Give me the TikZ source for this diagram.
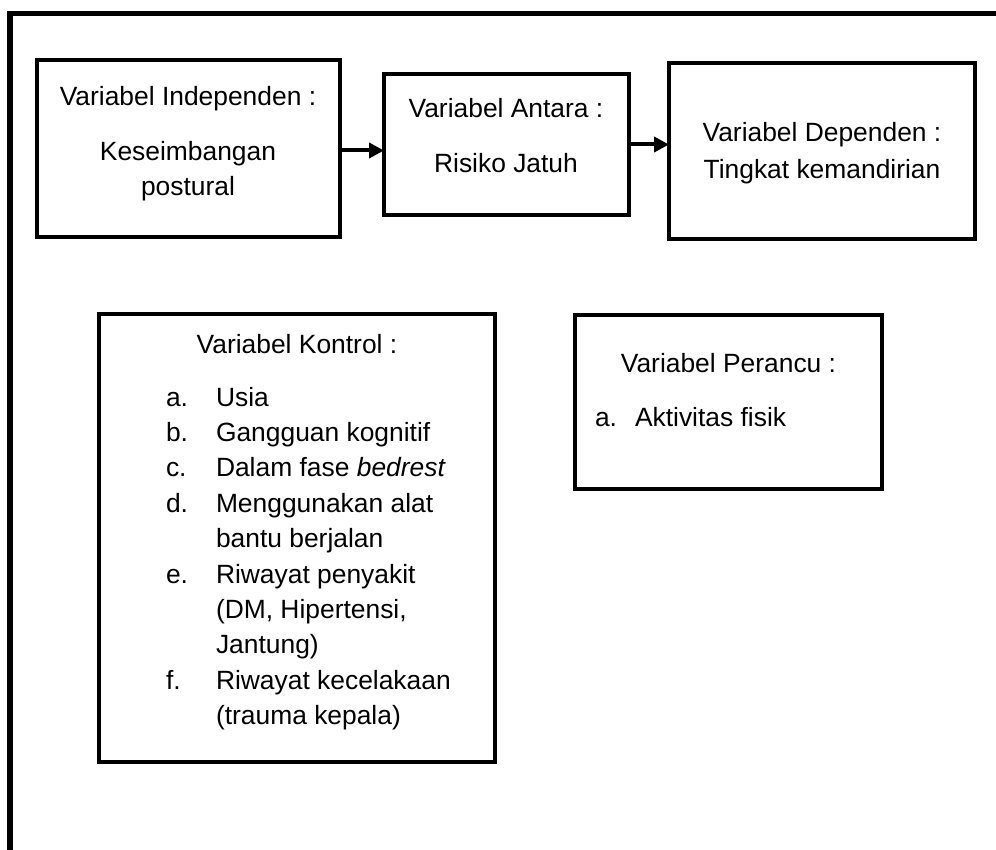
\documentclass[tikz,border=0pt]{standalone}
\usepackage{fontspec}
\setmainfont{Liberation Sans}
\usetikzlibrary{arrows.meta}
\begin{document}
\begin{tikzpicture}[x=1pt,y=-1pt,
  box/.style={draw=black, line width=4pt, rectangle, inner sep=0pt, outer sep=0pt, anchor=north west},
  txt/.style={inner sep=0pt, outer sep=0pt, anchor=base, font=\fontsize{26.4pt}{35pt}\selectfont},
  lft/.style={txt, anchor=base west},
  arr/.style={line width=4pt, -{Triangle[length=15pt,width=15pt]}},
  frame/.style={line width=5.3pt, line join=miter}]
\useasboundingbox (0,0) rectangle (996,850);
% outer frame (only left and top edges visible)
\coordinate (fa) at (10,870);
\coordinate (fb) at (10,13.5);
\coordinate (fc) at (1020,13.5);
\draw[frame] (fa) -- (fb) -- (fc);

% top boxes
\node[box, minimum width=303.5pt, minimum height=177pt] (b1) at (36.5,60) {};
\node[box, minimum width=244.5pt, minimum height=141pt] (b2) at (384,74) {};
\node[box, minimum width=306pt, minimum height=176pt] (b3) at (669,63.5) {};

\node[txt] (t1a) at (188,105.5) {Variabel Independen :};
\node[txt] (t1b) at (188,160.5) {Keseimbangan};
\node[txt] (t1c) at (188,195.5) {postural};

\node[txt] (t2a) at (506,118) {Variabel Antara :};
\node[txt] (t2b) at (506,173) {Risiko Jatuh};

\node[txt] (t3a) at (822,142) {Variabel Dependen :};
\node[txt] (t3b) at (822,179) {Tingkat kemandirian};

% arrows
\draw[arr] ([yshift=-2pt]b1.east) -- ([yshift=-2pt]b1.east -| b2.west);
\draw[arr] (b2.east) -- (b2.east -| b3.west);

% control variables
\node[box, minimum width=396pt, minimum height=448pt] (bk) at (99,314) {};
\node[txt] (tk) at (297,353) {Variabel Kontrol :};
\node[lft] (ka) at (166,406) {a.};
\node[lft] (kat) at (216,406) {Usia};
\node[lft] (kb) at (166,441.4) {b.};
\node[lft] (kbt) at (216,441.4) {Gangguan kognitif};
\node[lft] (kc) at (166,476.8) {c.};
\node[lft] (kct) at (216,476.8) {Dalam fase \textit{bedrest}};
\node[lft] (kd) at (166,512.2) {d.};
\node[lft] (kdt) at (216,512.2) {Menggunakan alat};
\node[lft] (kdt2) at (216,547.6) {bantu berjalan};
\node[lft] (ke) at (166,583) {e.};
\node[lft] (ket) at (216,583) {Riwayat penyakit};
\node[lft] (ket2) at (216,618.4) {(DM, Hipertensi,};
\node[lft] (ket3) at (216,653.8) {Jantung)};
\node[lft] (kf) at (166,689.2) {f.};
\node[lft] (kft) at (216,689.2) {Riwayat kecelakaan};
\node[lft] (kft2) at (216,724.6) {(trauma kepala)};

% confounding variables
\node[box, minimum width=307pt, minimum height=174pt] (bp) at (575,315) {};
\node[txt] (tp) at (728.5,372) {Variabel Perancu :};
\node[lft] (pa) at (595,426) {a.};
\node[lft] (pat) at (635,426) {Aktivitas fisik};
\end{tikzpicture}
\end{document}
